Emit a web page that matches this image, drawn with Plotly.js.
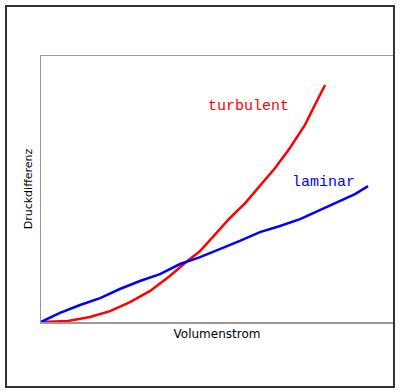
<!DOCTYPE html>
<html>
<head>
<meta charset="utf-8">
<script src="https://cdn.plot.ly/plotly-3.0.1.min.js"></script>
<style>html,body{margin:0;padding:0;background:#fff;}#chart{width:400px;height:392px;}</style>
</head>
<body>
<div id="chart"></div>
<script>
// Volumenstrom (relative units)
const turbX = [0, 7.7, 13.9, 19.6, 25.3, 31.0, 36.6, 40.9, 45.2, 49.4, 53.7, 58.0, 62.2, 66.5, 70.7, 75.0, 77.8, 80.7];
// Druckdifferenz, turbulent
const turbY = [0, 0.4, 1.9, 4.1, 7.5, 11.7, 17.3, 22.2, 26.7, 32.7, 39.1, 44.7, 51.1, 57.9, 65.4, 74.1, 81.6, 89.1];
const lamX = [0, 5.4, 11.1, 16.8, 22.4, 28.1, 33.8, 39.5, 45.2, 50.9, 56.5, 62.2, 67.9, 73.6, 79.3, 84.9, 89.2, 92.9];
// Druckdifferenz, laminar
const lamY = [0, 3.4, 6.4, 9.0, 12.4, 15.4, 18.0, 21.8, 24.4, 27.4, 30.5, 33.8, 36.1, 38.7, 42.1, 45.5, 48.1, 51.1];
const labels = ["turbulent", "laminar"];
const labelPos = [[47.0, 80.9], [70.6, 52.6]];

const traces = [
  {x: turbX, y: turbY, mode: "lines", line: {color: "#ff0000", width: 2.5}, hoverinfo: "skip"},
  {x: lamX, y: lamY, mode: "lines", line: {color: "#0000ff", width: 2.5}, hoverinfo: "skip"}
];

const layout = {
  width: 400, height: 392,
  margin: {l: 41, r: 7, t: 56, b: 70},
  paper_bgcolor: "#fff", plot_bgcolor: "#fff",
  showlegend: false,
  xaxis: {range: [0, 100], showgrid: false, zeroline: false, showticklabels: false, ticks: "",
          showline: true, mirror: true, linecolor: "#999", linewidth: 1.5,
          title: {text: "Volumenstrom", standoff: 7, font: {family: "DejaVu Sans", size: 12, color: "#000"}}},
  yaxis: {range: [0, 100], showgrid: false, zeroline: false, showticklabels: false, ticks: "",
          showline: true, mirror: true, linecolor: "#999", linewidth: 1.5,
          title: {text: "Druckdifferenz", standoff: 4, font: {family: "DejaVu Sans", size: 11, color: "#000"}}},
  annotations: labels.map((t, i) => ({
    x: labelPos[i][0], y: labelPos[i][1], xref: "x", yref: "y", text: t, showarrow: false,
    xanchor: "left", yanchor: "middle",
    font: {family: "Liberation Mono, Courier New, monospace", size: 15, color: i === 0 ? "#ff0000" : "#0000ff"}
  })),
  shapes: [{type: "rect", xref: "paper", yref: "paper", x0: -0.0994, x1: 1.0028, y0: -0.2444, y1: 1.188,
            line: {color: "#333", width: 2}}]
};

Plotly.newPlot("chart", traces, layout, {displayModeBar: false, staticPlot: true});
</script>
</body>
</html>
